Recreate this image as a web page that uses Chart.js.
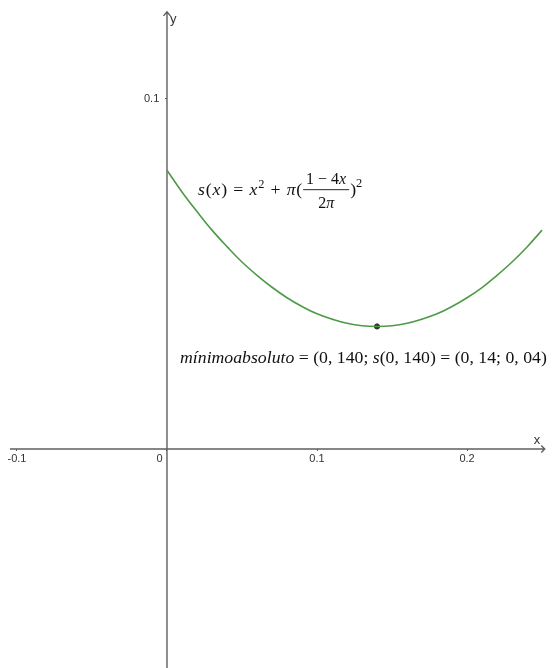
<!DOCTYPE html>
<html>
<head>
<meta charset="utf-8">
<script src="https://cdn.jsdelivr.net/npm/chart.js@4"></script>
<style>
  html, body { margin: 0; padding: 0; background: #fff; }
  #wrap { width: 556px; height: 668px; position: relative; }
</style>
</head>
<body>
<div id="wrap"><canvas id="grafico"></canvas></div>
<script>
// valores: s(x) no intervalo [0; 0,25]
const xs = [0, 0.01, 0.02, 0.03, 0.04, 0.05, 0.06, 0.07, 0.08, 0.09, 0.10, 0.11, 0.12,
            0.13, 0.14, 0.15, 0.16, 0.17, 0.18, 0.19, 0.20, 0.21, 0.22, 0.23, 0.24, 0.25];
const ys = [0.0796, 0.0734, 0.0678, 0.0625, 0.0578, 0.0534, 0.0496, 0.0462, 0.0432, 0.0407,
            0.0386, 0.0371, 0.0359, 0.0352, 0.0350, 0.0352, 0.0359, 0.0371, 0.0386, 0.0407,
            0.0432, 0.0461, 0.0496, 0.0534, 0.0577, 0.0625];
const minimo = { x: 0.14, y: 0.035 };
const ticksX = [-0.1, 0, 0.1, 0.2];
const ticksY = [0.1];

const corCurva = '#4e9a47';
const corEixo = '#5f5f5f';
const serif = '"Liberation Serif", "DejaVu Serif", serif';

function fonte(ctx, p, tam) {
  ctx.font = (p.i ? 'italic ' : '') + (tam * (p.s || 1)).toFixed(2) + 'px ' + serif;
}
// escreve pedaços de texto em sequência (italico / sobrescrito)
function escrever(ctx, x, y, partes, tam) {
  for (const p of partes) {
    fonte(ctx, p, tam);
    ctx.fillText(p.t, x, y + (p.dy || 0) * tam);
    x += ctx.measureText(p.t).width;
  }
  return x;
}
function largura(ctx, partes, tam) {
  let w = 0;
  for (const p of partes) {
    fonte(ctx, p, tam);
    w += ctx.measureText(p.t).width;
  }
  return w;
}
function letras(partes) {
  return partes.reduce((n, p) => n + p.t.length, 0);
}

const antes = [
  { t: 's', i: true }, { t: '(' }, { t: 'x', i: true }, { t: ')' }, { t: ' = ' },
  { t: 'x', i: true }, { t: '2', s: 0.7, dy: -0.42 }, { t: ' + ' }, { t: 'π', i: true }, { t: '(' }
];
const numerador = [{ t: '1 − 4' }, { t: 'x', i: true }];
const denominador = [{ t: '2' }, { t: 'π', i: true }];
const depois = [{ t: ')' }, { t: '2', s: 0.7, dy: -0.45 }];

const rotulo2 = [
  { t: 'mínimoabsoluto', i: true }, { t: ' = (0, 140; ' }, { t: 's', i: true },
  { t: '(0, 140) = (0, 14; 0, 04)' }
];

const semPadding = s => { s.paddingTop = 0; s.paddingBottom = 0; s.paddingLeft = 0; s.paddingRight = 0; };

const eixosPlugin = {
  id: 'eixos',
  beforeDatasetsDraw(chart) {
    const { ctx, scales: { x, y } } = chart;
    const x0 = x.getPixelForValue(0);
    const y0 = y.getPixelForValue(0);
    const xIni = x.getPixelForValue(-0.1047), xFim = x.getPixelForValue(0.2518);
    const yTopo = y.getPixelForValue(0.1248), yBase = chart.chartArea.bottom;
    ctx.save();
    ctx.strokeStyle = corEixo;
    ctx.lineWidth = 1.4;
    ctx.beginPath();
    ctx.moveTo(xIni, y0); ctx.lineTo(xFim, y0);
    ctx.moveTo(xFim - 3.5, y0 - 3.5); ctx.lineTo(xFim, y0); ctx.lineTo(xFim - 3.5, y0 + 3.5);
    ctx.moveTo(x0, yBase); ctx.lineTo(x0, yTopo);
    ctx.moveTo(x0 - 3.5, yTopo + 4); ctx.lineTo(x0, yTopo); ctx.lineTo(x0 + 3.5, yTopo + 4);
    ctx.stroke();
    ctx.fillStyle = '#333';
    ctx.font = '13px "Liberation Sans", Arial, sans-serif';
    ctx.textBaseline = 'alphabetic';
    ctx.textAlign = 'left';
    ctx.fillText('x', xFim - 11, y0 - 5);
    ctx.fillText('y', x0 + 3, yTopo + 11);
    ctx.font = '11px "Liberation Sans", Arial, sans-serif';
    ctx.textAlign = 'center';
    ctx.textBaseline = 'middle';
    ctx.fillText('0', x0 - 7.5, y0 + 9.5);
    ctx.restore();
  },
  afterDatasetsDraw(chart) {
    const { ctx, scales: { x, y } } = chart;
    ctx.save();
    ctx.fillStyle = '#111';
    ctx.textAlign = 'left';
    ctx.textBaseline = 'alphabetic';

    // minimo absoluto: ajusta o tamanho à largura do rótulo
    const x2 = x.getPixelForValue(0.0087);
    const alvo2 = x.getPixelForValue(0.2533) - x2;
    const tam = 16 * alvo2 / largura(ctx, rotulo2, 16);
    escrever(ctx, x2, y.getPixelForValue(0.0245), rotulo2, tam);

    // s(x) = x^2 + pi((1-4x)/(2pi))^2
    const px = x.getPixelForValue(0.0207), py = y.getPixelForValue(0.0725);
    const fimAntes = x.getPixelForValue(0.0907);
    ctx.letterSpacing = ((fimAntes - px - largura(ctx, antes, tam)) / letras(antes)).toFixed(2) + 'px';
    let cx = escrever(ctx, px, py, antes, tam);
    ctx.letterSpacing = '0px';
    const tf = tam * 0.9;
    const wn = largura(ctx, numerador, tf), wd = largura(ctx, denominador, tf);
    const wf = Math.max(wn, wd) + 6;
    escrever(ctx, cx + (wf - wn) / 2, py - 0.6 * tam, numerador, tf);
    escrever(ctx, cx + (wf - wd) / 2, py + 0.75 * tam, denominador, tf);
    ctx.fillRect(cx, py - 0.33 * tam, wf, 0.9);
    cx += wf + 1;
    escrever(ctx, cx, py, depois, tam);
    ctx.restore();
  }
};

new Chart(document.getElementById('grafico'), {
  type: 'scatter',
  data: {
    datasets: [
      {
        label: 's(x)',
        data: xs.map((v, i) => ({ x: v, y: ys[i] })),
        showLine: true,
        borderColor: corCurva,
        borderWidth: 1.6,
        pointRadius: 0,
        tension: 0.4,
        fill: false
      },
      {
        label: 'mínimo',
        data: [minimo],
        pointRadius: 2.6,
        pointBackgroundColor: '#333',
        pointBorderColor: '#333'
      }
    ]
  },
  options: {
    responsive: true,
    maintainAspectRatio: false,
    animation: false,
    layout: { padding: 0, autoPadding: false },
    plugins: { legend: { display: false }, tooltip: { enabled: false } },
    scales: {
      x: {
        type: 'linear',
        min: -0.1113,
        max: 0.2593,
        position: { y: 0 },
        border: { display: false },
        grid: { display: true, drawOnChartArea: false, drawTicks: true, tickLength: 2, color: corEixo },
        afterBuildTicks: s => { s.ticks = ticksX.map(v => ({ value: v })); },
        afterFit: semPadding,
        ticks: {
          autoSkip: false, maxRotation: 0, padding: 1,
          color: '#333',
          font: { family: '"Liberation Sans", Arial, sans-serif', size: 11 },
          callback: v => v === 0 ? '' : String(v)
        }
      },
      y: {
        type: 'linear',
        min: -0.0625,
        max: 0.1282,
        position: { x: 0 },
        border: { display: false },
        grid: { display: true, drawOnChartArea: false, drawTicks: true, tickLength: 2, color: corEixo },
        afterBuildTicks: s => { s.ticks = ticksY.map(v => ({ value: v })); },
        afterFit: semPadding,
        ticks: {
          autoSkip: false, padding: 3,
          color: '#333',
          font: { family: '"Liberation Sans", Arial, sans-serif', size: 11 },
          callback: v => String(v) + '\u2002\u2009'
        }
      }
    }
  },
  plugins: [eixosPlugin]
});
</script>
</body>
</html>
